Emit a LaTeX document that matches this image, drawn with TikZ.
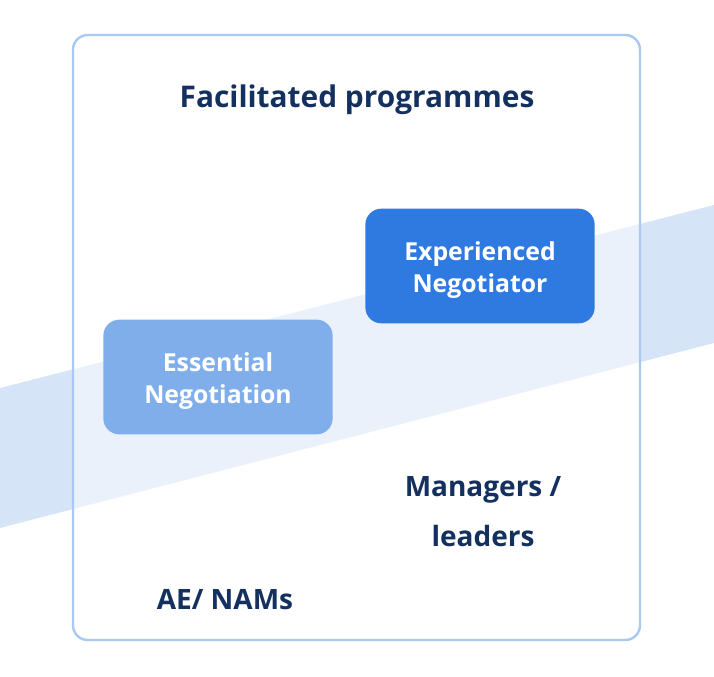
\documentclass[tikz,border=0pt]{standalone}
\usepackage{fontspec}
\setmainfont{Open Sans}
\definecolor{navy}{HTML}{14305E}
\definecolor{bandblue}{HTML}{D6E4F8}
\definecolor{frameblue}{HTML}{A9C8F2}
\definecolor{paleblue}{HTML}{80AEEA}
\definecolor{deepblue}{HTML}{2F7AE0}

\begin{document}
\begin{tikzpicture}[x=0.75pt, y=-0.75pt,
    progbox/.style={rectangle, rounded corners=12pt, minimum width=172pt, minimum height=86pt},
    progtext/.style={align=center, text=white, font=\bfseries\fontsize{18.6}{24}\selectfont},
    lbl/.style={text=navy, align=center, font=\bfseries\fontsize{21}{37.5}\selectfont}]
    \useasboundingbox (0, 0) rectangle (714, 676);

    % Diagonal band
    \fill[bandblue] (0, 388) -- (714, 205) -- (714, 343) -- (0, 528) -- cycle;

    % Frame
    \draw[frameblue, line width=1.8pt, fill=white, fill opacity=0.5, rounded corners=11pt]
        (73, 35) rectangle (640, 640);

    % Title
    \node[text=navy, font=\bfseries\fontsize{22.4}{26}\selectfont] (title) at (357, 100) {Facilitated programmes};

    % Programmes
    \node[progbox, fill=paleblue] (essential) at (218, 377) {};
    \node[progtext] (essential-text) at ([yshift=-3pt]essential.center) {Essential\\Negotiation};
    \node[progbox, fill=deepblue] (experienced) at (480, 266) {};
    \node[progtext] (experienced-text) at ([yshift=-3pt]experienced.center) {Experienced\\Negotiator};

    % Audiences
    \node[lbl] (managers) at (483, 512) {Managers /\\leaders};
    \node[lbl] (ae) at (225, 600) {AE/ NAMs};
\end{tikzpicture}
\end{document}
